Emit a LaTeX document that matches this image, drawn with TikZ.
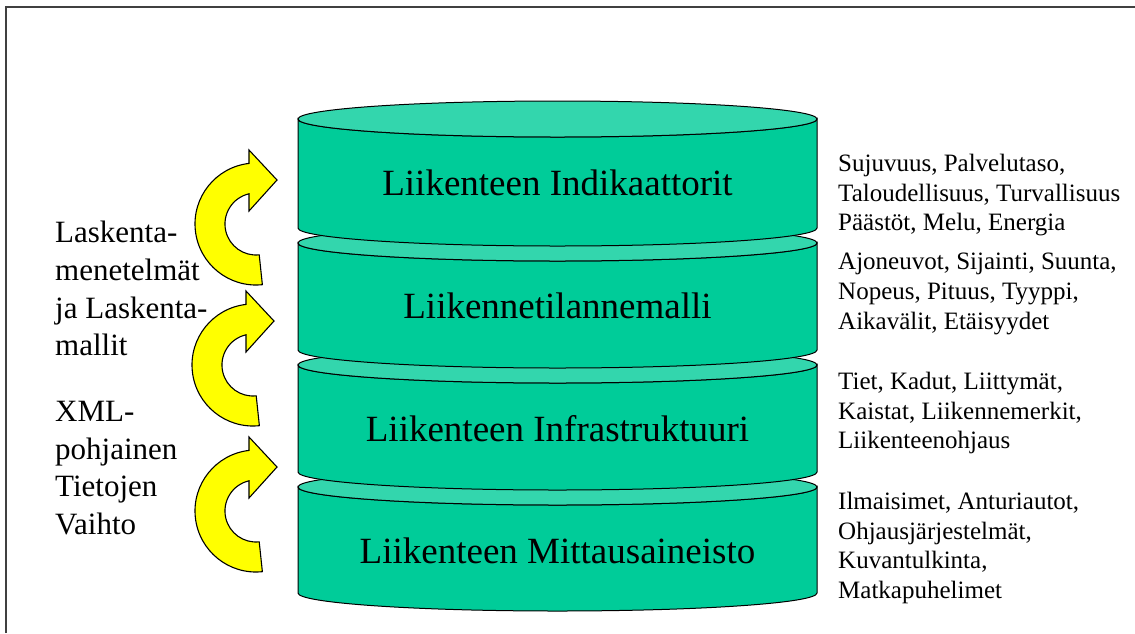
\documentclass[tikz,border=0pt]{standalone}
\usepackage{fontspec}
\setmainfont{Liberation Serif}
\definecolor{bodygreen}{RGB}{0,204,153}
\definecolor{capgreen}{RGB}{51,214,173}
\definecolor{framegray}{RGB}{64,64,64}
\definecolor{arrowyellow}{RGB}{255,255,0}

% one disc of the stack: #1 = y of the top rim, #2 = y of the bottom rim
\newcommand{\stackdisc}[2]{%
  \draw[discbody] (298,#1) -- (298,#2)
    arc[start angle=180,end angle=360,x radius=259.5pt,y radius=18pt]
    -- (817,#1)
    arc[start angle=0,end angle=-180,x radius=259.5pt,y radius=18pt] -- cycle;
  \draw[disccap] (557.5,#1) ellipse[x radius=259.5pt,y radius=18pt];
}

% curved yellow arrow turning upwards to the right, centred at #1
\newcommand{\turnarrow}[1]{%
  \begin{scope}[shift={#1}]
    \draw[turnstyle] (276:61pt) arc[start angle=276,end angle=96.6,radius=61pt]
      -- (-7,-74) -- (21,-44) -- (-7,-13) -- (-7,-30.2)
      arc[start angle=103,end angle=276,radius=31pt] -- cycle;
  \end{scope}
}

\tikzset{
  discbody/.style={fill=bodygreen,draw=black,line width=1pt},
  disccap/.style={fill=capgreen,draw=black,line width=1pt},
  turnstyle/.style={fill=arrowyellow,draw=black,line width=1.1pt,line join=miter},
  layertext/.style={font=\fontsize{37}{44}\selectfont,anchor=base,inner sep=0pt},
  notetext/.style={font=\fontsize{25}{29.7}\selectfont,anchor=north west,align=left,inner sep=0pt},
  sidetext/.style={font=\fontsize{31}{37.7}\selectfont,anchor=north west,align=left,inner sep=0pt},
}

\begin{document}
\begin{tikzpicture}[x=1pt,y=-1pt]
  \useasboundingbox[fill=white] (0,0) rectangle (1135,633);

  % frame lines
  \draw[framegray,line width=2.2pt] (6,633) -- (6,7) -- (1135,7);

  % stack of discs, lowest first
  \stackdisc{487}{593}
  \stackdisc{365}{472}
  \stackdisc{243}{350}
  \stackdisc{119}{228}

  \node[layertext] (indik) at (557.5,195) {Liikenteen Indikaattorit};
  \node[layertext] (tilanne) at (557.5,318) {Liikennetilannemalli};
  \node[layertext] (infra) at (557.5,441) {Liikenteen Infrastruktuuri};
  \node[layertext] (mittaus) at (557.5,563) {Liikenteen Mittausaineisto};

  % descriptions on the right
  \node[notetext] (indiknote) at (838,154) {Sujuvuus, Palvelutaso,\\Taloudellisuus, Turvallisuus\\Päästöt, Melu, Energia};
  \node[notetext] (tilannenote) at (838,253) {Ajoneuvot, Sijainti, Suunta,\\Nopeus, Pituus, Tyyppi,\\Aikavälit, Etäisyydet};
  \node[notetext] (infranote) at (838,372) {Tiet, Kadut, Liittymät,\\Kaistat, Liikennemerkit,\\Liikenteenohjaus};
  \node[notetext] (mittausnote) at (838,492) {Ilmaisimet, Anturiautot,\\Ohjausjärjestelmät,\\Kuvantulkinta,\\Matkapuhelimet};

  % turning arrows between the layers
  \turnarrow{(256,224)}
  \turnarrow{(253,365)}
  \turnarrow{(256,511)}

  % labels on the left
  \node[sidetext] (calc) at (55,221) {Laskenta-\\menetelmät\\ja Laskenta-\\mallit};
  \node[sidetext] (xml) at (55,401) {XML-\\pohjainen\\Tietojen\\Vaihto};
\end{tikzpicture}
\end{document}
